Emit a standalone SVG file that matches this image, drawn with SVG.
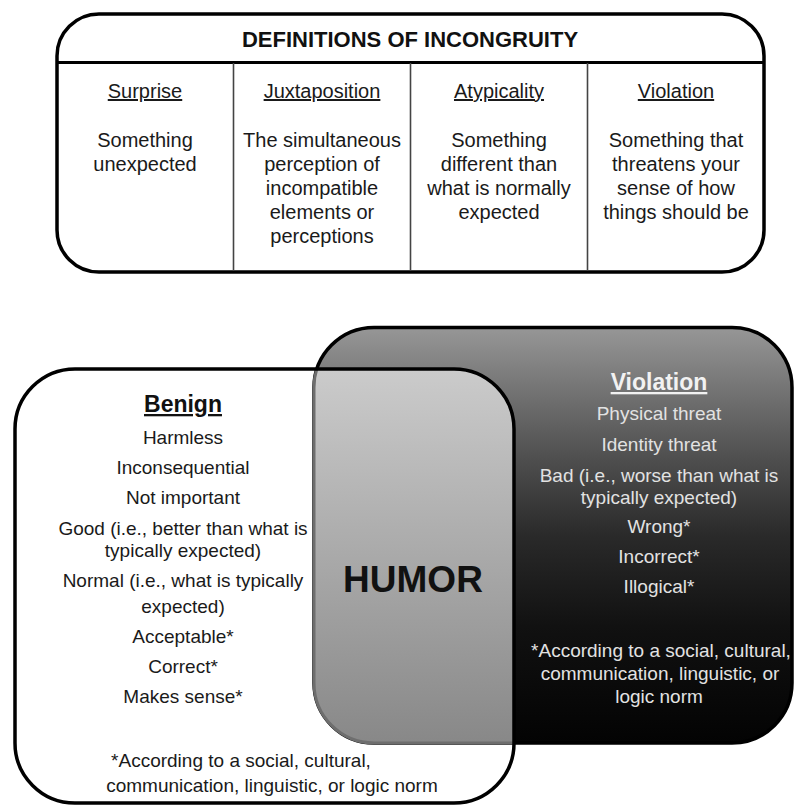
<svg xmlns="http://www.w3.org/2000/svg" width="795" height="806" viewBox="0 0 795 806">
<defs>
<style>
text{font-family:"Liberation Sans",Arial,sans-serif;text-anchor:middle;}
.hd{font-size:22px;font-weight:bold;fill:#111;}
.ch{font-size:20px;fill:#1a1a1a;text-decoration:underline;}
.ct{font-size:20px;fill:#1a1a1a;}
.bh{font-size:23px;font-weight:bold;fill:#111;text-decoration:underline;}
.bt{font-size:19px;fill:#1a1a1a;}
.vh{font-size:23px;font-weight:bold;fill:#f2f2f2;text-decoration:underline;}
.vt{font-size:19px;fill:#e2e2e2;}
.box{fill:none;stroke:#000;stroke-width:3.5;}
.div{stroke:#444;stroke-width:1.6;}
</style>
<linearGradient id="vg" gradientUnits="userSpaceOnUse" x1="0" y1="327" x2="0" y2="743">
<stop offset="0" stop-color="#979797"/>
<stop offset="0.15" stop-color="#747474"/>
<stop offset="0.32" stop-color="#4e4e4e"/>
<stop offset="0.5" stop-color="#2a2a2a"/>
<stop offset="0.72" stop-color="#111"/>
<stop offset="1" stop-color="#030303"/>
</linearGradient>
<linearGradient id="og" gradientUnits="userSpaceOnUse" x1="0" y1="369" x2="0" y2="743">
<stop offset="0" stop-color="#cbcbcb"/>
<stop offset="1" stop-color="#888"/>
</linearGradient>
<clipPath id="benClip"><rect x="15" y="369" width="499" height="434" rx="60"/></clipPath>
</defs>
<rect width="795" height="806" fill="#fff"/>

<g id="definitions">
<rect class="box" x="57" y="14" width="707" height="258" rx="42"/>
<line x1="57" y1="62.5" x2="764" y2="62.5" stroke="#000" stroke-width="3"/>
<line class="div" x1="233.5" y1="63" x2="233.5" y2="271"/>
<line class="div" x1="410.5" y1="63" x2="410.5" y2="271"/>
<line class="div" x1="587.5" y1="63" x2="587.5" y2="271"/>
<text class="hd" x="410" y="47">DEFINITIONS OF INCONGRUITY</text>
</g>
<g id="col-surprise">
<text class="ch" x="145" y="98">Surprise</text>
<text class="ct" x="145" y="147">Something</text>
<text class="ct" x="145" y="171">unexpected</text>
</g>
<g id="col-juxtaposition">
<text class="ch" x="322" y="98">Juxtaposition</text>
<text class="ct" x="322" y="147">The simultaneous</text>
<text class="ct" x="322" y="171">perception of</text>
<text class="ct" x="322" y="195">incompatible</text>
<text class="ct" x="322" y="219">elements or</text>
<text class="ct" x="322" y="243">perceptions</text>
</g>
<g id="col-atypicality">
<text class="ch" x="499" y="98">Atypicality</text>
<text class="ct" x="499" y="147">Something</text>
<text class="ct" x="499" y="171">different than</text>
<text class="ct" x="499" y="195">what is normally</text>
<text class="ct" x="499" y="219">expected</text>
</g>
<g id="col-violation">
<text class="ch" x="676" y="98">Violation</text>
<text class="ct" x="676" y="147">Something that</text>
<text class="ct" x="676" y="171">threatens your</text>
<text class="ct" x="676" y="195">sense of how</text>
<text class="ct" x="676" y="219">things should be</text>
</g>

<g id="violation">
<rect x="314" y="327.5" width="478" height="415.5" rx="60" fill="url(#vg)" stroke="#000" stroke-width="3.5"/>
<text class="vh" x="659" y="390">Violation</text>
<text class="vt" x="659" y="420">Physical threat</text>
<text class="vt" x="659" y="451">Identity threat</text>
<text class="vt" x="659" y="482">Bad (i.e., worse than what is</text>
<text class="vt" x="659" y="504">typically expected)</text>
<text class="vt" x="659" y="533">Wrong*</text>
<text class="vt" x="659" y="563">Incorrect*</text>
<text class="vt" x="659" y="593">Illogical*</text>
<text class="vt" x="661" y="657">*According to a social, cultural,</text>
<text class="vt" x="660" y="680">communication, linguistic, or</text>
<text class="vt" x="659" y="703">logic norm</text>
</g>

<g id="overlap">
<rect x="314" y="327.5" width="478" height="415.5" rx="60" fill="url(#og)" stroke="#6e6e6e" stroke-width="3" clip-path="url(#benClip)"/>
</g>

<g id="benign">
<rect class="box" x="15" y="369" width="499" height="434" rx="60"/>
<text class="bh" x="183" y="412">Benign</text>
<text class="bt" x="183" y="444">Harmless</text>
<text class="bt" x="183" y="474">Inconsequential</text>
<text class="bt" x="183" y="504">Not important</text>
<text class="bt" x="183" y="535">Good (i.e., better than what is</text>
<text class="bt" x="183" y="557">typically expected)</text>
<text class="bt" x="183" y="587">Normal (i.e., what is typically</text>
<text class="bt" x="183" y="613">expected)</text>
<text class="bt" x="183" y="643">Acceptable*</text>
<text class="bt" x="183" y="673">Correct*</text>
<text class="bt" x="183" y="703">Makes sense*</text>
<text class="bt" x="241" y="767">*According to a social, cultural,</text>
<text class="bt" x="272" y="792">communication, linguistic, or logic norm</text>
</g>

<g id="humor">
<text x="413" y="592" style="font-size:37px;font-weight:bold;fill:#111;">HUMOR</text>
</g>
</svg>
